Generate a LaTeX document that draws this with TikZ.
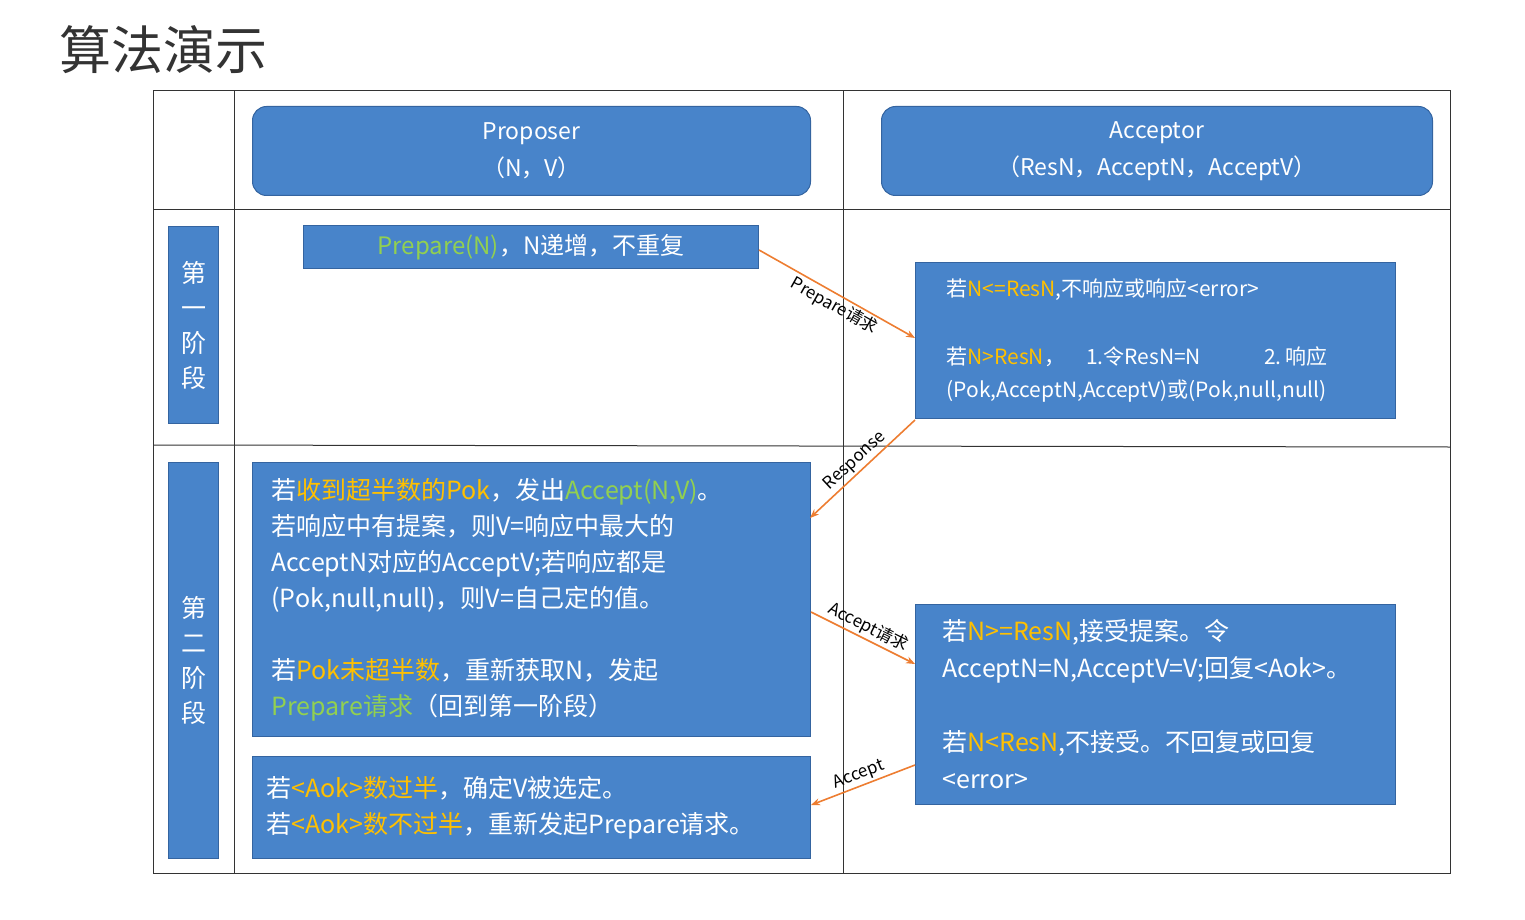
\documentclass[tikz,border=0pt]{standalone}
\usepackage{fontspec}
\setmainfont{Noto Sans CJK SC}
\usetikzlibrary{arrows.meta}
\definecolor{bx}{RGB}{72,132,202}
\definecolor{bxd}{RGB}{52,100,160}
\definecolor{yl}{RGB}{255,192,0}
\definecolor{gn}{RGB}{146,208,80}
\definecolor{ar}{RGB}{237,125,49}
\tikzset{
  blue box/.style={draw=bxd, line width=1pt, fill=bx, text=white, inner sep=0pt, anchor=north west},
  round box/.style={blue box, rounded corners=14pt, align=center, font=\fontsize{23}{37}\selectfont},
  stage box/.style={blue box, align=center, font=\fontsize{25}{35}\selectfont},
  text box/.style={blue box, align=left},
  grid/.style={line width=1pt, black!80},
  msg/.style={draw=ar, line width=1.6pt, -{Stealth[length=9pt,width=7pt]}},
  lbl/.style={sloped, font=\fontsize{17}{17}\selectfont, text=black, inner sep=2pt}
}
\newcommand{\Y}[1]{\textcolor{yl}{#1}}
\newcommand{\G}[1]{\textcolor{gn}{#1}}
\begin{document}
\begin{tikzpicture}[x=1pt,y=-1pt]
\useasboundingbox (0,0) rectangle (1525,920);
\node[anchor=west, font=\fontsize{52}{52}\selectfont, text=black!80] (title) at (56,50) {算法演示};
% grid
\draw[grid] (153,91) rectangle (1450,873);
\draw[grid] (234,91) -- (234,873);
\draw[grid] (843,91) -- (843,873);
\draw[grid] (153,209) -- (1450,209);
\draw[grid] (153,445) -- (1450,447);
% headers
\node[round box, minimum width=558pt, minimum height=89pt] (prop) at (252,106) {Proposer\\（N，V）};
\node[round box, minimum width=551pt, minimum height=89pt] (acc) at (881,106) {Acceptor\\（ResN，AcceptN，AcceptV）};
% stages
\node[stage box, minimum width=50pt, minimum height=197pt] (s1) at (168,226) {第\\一\\阶\\段};
\node[stage box, minimum width=50pt, minimum height=396pt] (s2) at (168,462) {第\\二\\阶\\段};
% phase 1
\node[text box, minimum width=455pt, minimum height=43pt, align=center, font=\fontsize{24}{30}\selectfont] (prep) at (303,225) {\G{Prepare(N)}，N递增，不重复};
\node[text box, minimum width=480pt, minimum height=156pt, text width=450pt, font=\fontsize{21}{33}\selectfont] (a1) at (915,262) {\hspace*{16pt}若\Y{N<=ResN},不响应或响应<error>\\[35pt]\hspace*{16pt}若\Y{N>ResN}，\quad 1.令ResN=N\qquad\quad 2.\,响应\\\hspace*{16pt}(Pok,AcceptN,AcceptV)或(Pok,null,null)};
% phase 2
\node[text box, minimum width=558pt, minimum height=274pt, text width=540pt, font=\fontsize{25}{36}\selectfont] (p2) at (252,462) {\hspace*{10pt}若\Y{收到超半数的Pok}，发出\G{Accept(N,V)}。\\\hspace*{10pt}若响应中有提案，则V=响应中最大的\\\hspace*{10pt}AcceptN对应的AcceptV;若响应都是\\\hspace*{10pt}(Pok,null,null)，则V=自己定的值。\\[36pt]\hspace*{10pt}若\Y{Pok未超半数}，重新获取N，发起\\\hspace*{10pt}\G{Prepare请求}（回到第一阶段）};
\node[text box, minimum width=558pt, minimum height=102pt, text width=550pt, font=\fontsize{25}{36}\selectfont] (p3) at (252,756) {\hspace*{10pt}若\Y{<Aok>数过半}，确定V被选定。\\\hspace*{10pt}若\Y{<Aok>数不过半}，重新发起Prepare请求。};
\node[text box, minimum width=480pt, minimum height=200pt, text width=470pt, font=\fontsize{25}{37}\selectfont] (a2) at (915,604) {\hspace*{22pt}若\Y{N>=ResN},接受提案。令\\\hspace*{22pt}AcceptN=N,AcceptV=V;回复<Aok>。\\[37pt]\hspace*{22pt}若\Y{N<ResN},不接受。不回复或回复\\\hspace*{22pt}<error>};
% arrows
\coordinate (e1) at (758,250); \coordinate (e2) at (913,338);
\draw[msg] (prep.east |- e1) -- (a1.west |- e2) node[lbl, pos=0.52, below] {Prepare请求};
\draw[msg] (915,420) -- (810,518) node[lbl, pos=0.5, above] {Response};
\draw[msg] (p2.east |- 0,612) -- (a2.west |- 0,664) node[lbl, pos=0.5, above] {Accept请求};
\draw[msg] (a2.west |- 0,765) -- (p3.east |- 0,805) node[lbl, pos=0.5, above] {Accept};
\end{tikzpicture}
\end{document}
